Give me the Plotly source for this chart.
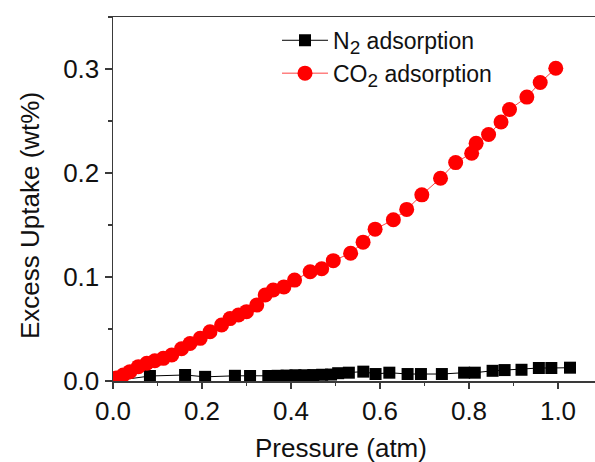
import plotly.graph_objects as go

# CO2 adsorption (pressure in atm, excess uptake in wt%)
co2_p = [0.008, 0.023, 0.038, 0.057, 0.076, 0.094, 0.113, 0.132, 0.154, 0.173,
         0.196, 0.218, 0.244, 0.263, 0.282, 0.300, 0.323, 0.342, 0.360, 0.384,
         0.408, 0.443, 0.469, 0.495, 0.534, 0.562, 0.589, 0.630, 0.660, 0.694,
         0.736, 0.770, 0.806, 0.816, 0.844, 0.872, 0.891, 0.930, 0.960, 0.995]
co2_v = [0.003, 0.0058, 0.009, 0.0138, 0.017, 0.0195, 0.0218, 0.025, 0.031, 0.036,
         0.041, 0.0474, 0.0538, 0.060, 0.0635, 0.0667, 0.073, 0.0827, 0.0875, 0.0905,
         0.097, 0.105, 0.108, 0.1157, 0.1228, 0.1335, 0.146, 0.155, 0.165, 0.179,
         0.195, 0.210, 0.219, 0.2285, 0.237, 0.249, 0.261, 0.273, 0.287, 0.3007]

# N2 adsorption
n2_p = [0.0, 0.083, 0.162, 0.207, 0.274, 0.308, 0.349, 0.370, 0.390, 0.410,
        0.430, 0.450, 0.470, 0.490, 0.506, 0.530, 0.5625, 0.590, 0.621, 0.662,
        0.692, 0.739, 0.789, 0.813, 0.853, 0.880, 0.918, 0.957, 0.985, 1.027]
n2_v = [0.0, 0.0048, 0.0058, 0.004, 0.005, 0.0048, 0.0048, 0.005, 0.0052, 0.0055,
        0.0055, 0.0057, 0.006, 0.0062, 0.0075, 0.008, 0.009, 0.0067, 0.008, 0.0067,
        0.0067, 0.0067, 0.008, 0.008, 0.0098, 0.0105, 0.0108, 0.0125, 0.0125, 0.0128]

x_ticks = [0.0, 0.2, 0.4, 0.6, 0.8, 1.0]
y_ticks = [0.0, 0.1, 0.2, 0.3]

FONT = "Liberation Sans, Arial, sans-serif"
AX = "#3a3a3a"
SUB = "<sub><span style='font-size:19px'>2</span></sub>"

fig = go.Figure()
fig.add_trace(go.Scatter(
    x=n2_p, y=n2_v, mode="lines+markers", name="N" + SUB + " adsorption",
    legendgroup="a",
    line=dict(color="#000000", width=1),
    marker=dict(symbol="square", size=12, color="#000000"),
))
fig.add_trace(go.Scatter(
    x=co2_p, y=co2_v, mode="lines+markers", name="CO" + SUB + " adsorption",
    legendgroup="b",
    line=dict(color="#ff4040", width=1),
    marker=dict(symbol="circle", size=15, color="#ff0000"),
))

# plot area spans x 113..595, y 17..381 (the original is cropped at the right edge)
PW = 482
PH = 364
fig.update_layout(
    width=595, height=462,
    margin=dict(l=113, r=0, t=17, b=81),
    paper_bgcolor="white", plot_bgcolor="white",
    font=dict(family=FONT, color="#111111"),
    hovermode=False,
    showlegend=True,
    legend=dict(x=(277 - 113) / PW, y=0.995, xanchor="left", yanchor="top",
                bgcolor="rgba(0,0,0,0)", borderwidth=0,
                font=dict(size=23, family=FONT, color="#111111"),
                tracegroupgap=0, itemwidth=46),
    xaxis=dict(range=[0, PW / 445], tickvals=x_ticks, tickformat=".1f",
               showgrid=False, zeroline=False,
               showline=True, linecolor=AX, linewidth=1.5, mirror=True,
               ticks="outside", ticklen=6, tickwidth=1.5, tickcolor=AX,
               minor=dict(dtick=0.1, ticks="outside", ticklen=3, tickwidth=1.5, tickcolor=AX),
               tickfont=dict(size=26, family=FONT, color="#111111")),
    yaxis=dict(range=[0, 0.35], tickvals=y_ticks, tickformat=".1f",
               showgrid=False, zeroline=False,
               showline=True, linecolor=AX, linewidth=1.5, mirror=False,
               ticks="outside", ticklen=7, tickwidth=1.5, tickcolor=AX,
               minor=dict(dtick=0.05, ticks="outside", ticklen=4, tickwidth=1.5, tickcolor=AX),
               tickfont=dict(size=26, family=FONT, color="#111111")),
    annotations=[
        dict(text="Pressure (atm)", xref="paper", yref="paper",
             x=(341 - 113) / PW, y=-(448 - 381) / PH, xanchor="center", yanchor="middle",
             showarrow=False, font=dict(size=26, family=FONT, color="#111111")),
        dict(text="Excess Uptake (wt%)", xref="paper", yref="paper",
             x=-(113 - 30) / PW, y=(381 - 216) / PH, xanchor="center", yanchor="middle",
             textangle=-90, showarrow=False,
             font=dict(size=26, family=FONT, color="#111111")),
    ],
)

fig.write_html(
    "out.html",
    config={"displayModeBar": False, "staticPlot": True},
    post_script="document.body.style.margin='0px';document.body.style.overflow='hidden';",
)
